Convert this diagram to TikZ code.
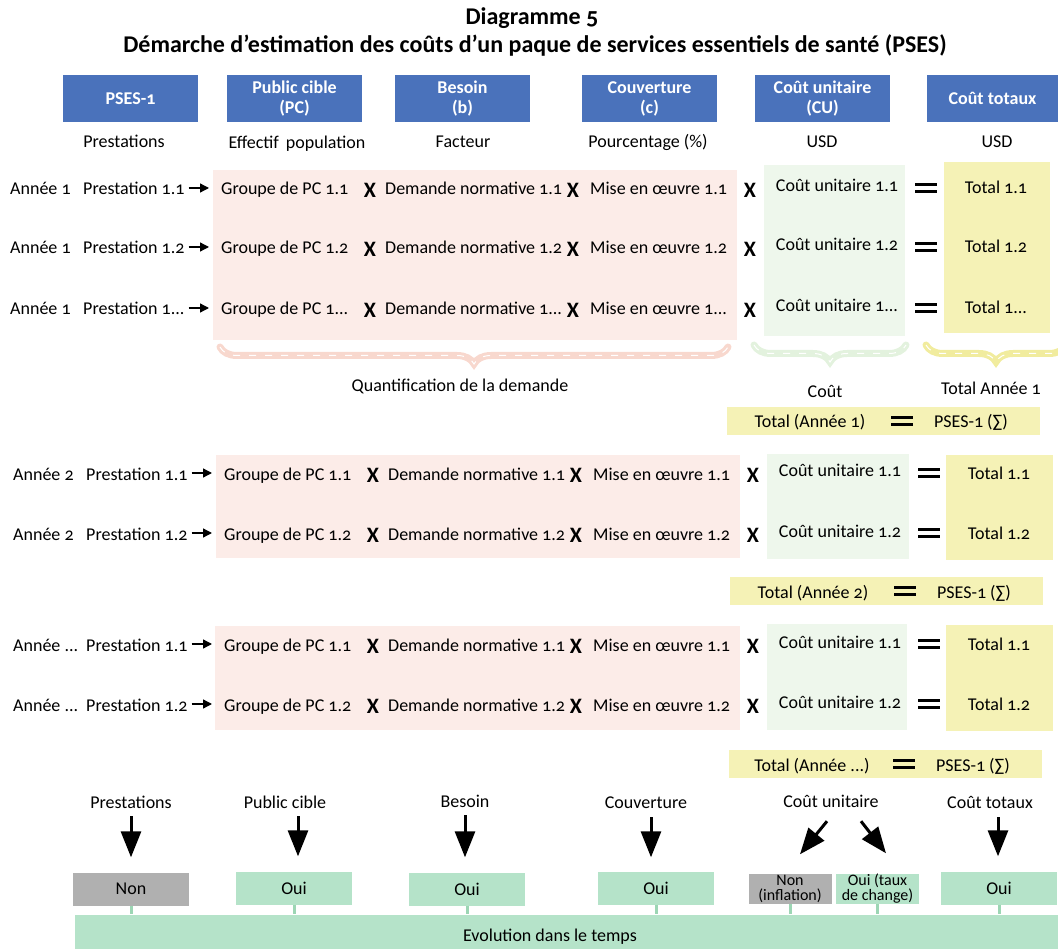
\documentclass[tikz,border=0pt]{standalone}
\usepackage{fontspec}
\setmainfont{Carlito}[Numbers=OldStyle]
\usetikzlibrary{arrows.meta,decorations.pathreplacing}

\definecolor{hdrblue}{HTML}{4A72BB}
\definecolor{demandbg}{HTML}{FCECE8}
\definecolor{costbg}{HTML}{EEF7EC}
\definecolor{totalbg}{HTML}{F5F2B6}
\definecolor{nobg}{HTML}{B0B0B0}
\definecolor{yesbg}{HTML}{B5E3C9}
\definecolor{tickcol}{HTML}{9CD6B4}
\definecolor{bracepink}{HTML}{F8D8CE}
\definecolor{bracegreen}{HTML}{E3F2DE}
\definecolor{braceyellow}{HTML}{F1EC9E}

\newcommand{\bodysize}{\fontsize{18}{20}\selectfont}
\newcommand{\eqbars}{\vbox{\hrule width 22pt height 3.4pt\vskip 3.6pt\hrule width 22pt height 3.4pt}}

% one line of the cost computation: id, y, year, index, x offset
\newcommand{\costrow}[5]{%
  \node[txt,anchor=west] (an#1) at (10+#5,#2) {Année #3};
  \node[txt,anchor=west] (pr#1) at (83+#5,#2) {Prestation #4};
  \node[txt,anchor=west] (gr#1) at (221+#5,#2) {Groupe de PC #4};
  \node[mul] (xa#1) at (370+#5,#2+2) {X};
  \node[txt,anchor=west] (dn#1) at (385+#5,#2) {Demande normative #4};
  \node[mul] (xb#1) at (573+#5,#2+2) {X};
  \node[txt,anchor=west] (mo#1) at (590+#5,#2) {Mise en œuvre #4};
  \node[mul] (xc#1) at (750+#5,#2+2) {X};
  \node[txt] (cu#1) at (837+#5,#2-3) {Coût unitaire #4};
  \node[eqsign] (eq#1) at (926+#5,#2) {\eqbars};
  \node[txt] (to#1) at (996+#5,#2-1) {Total #4};
  \draw[rowarrow] (pr#1.east) -- (gr#1.west);
}

% yearly total line: id, y, year, x offset
\newcommand{\yeartotal}[4]{%
  \node[ybox] (tb#1) at (883.5+#4,#2) {};
  \node[txt] (tl#1) at (810+#4,#2) {Total (Année #3)};
  \node[eqsign] (te#1) at (902+#4,#2) {\eqbars};
  \node[txt] (tp#1) at (971+#4,#2) {PSES-1 (∑)};
}

\tikzset{
  txt/.style={inner sep=0pt,font=\bodysize,text=black,text height=15pt,text depth=1pt},
  mul/.style={inner sep=0pt,font=\fontsize{22}{22}\selectfont\bfseries},
  eqsign/.style={inner sep=0pt},
  hdr/.style={fill=hdrblue,text=white,font=\fontsize{18}{20}\selectfont\bfseries,
    minimum width=135pt,minimum height=47pt,inner sep=0pt,align=center},
  ybox/.style={fill=totalbg,minimum width=313pt,minimum height=28pt,inner sep=0pt},
  rowarrow/.style={-{Triangle[length=9pt,width=9pt]},line width=1.3pt,shorten <=4pt,shorten >=12pt},
  bigarrow/.style={-{Triangle[length=26pt,width=20pt]},line width=3pt},
  answer/.style={minimum height=33pt,inner sep=0pt,font=\bodysize,align=center},
  smallanswer/.style={minimum height=30pt,minimum width=83pt,inner sep=0pt,
    font=\fontsize{16}{15}\selectfont,align=center},
  tick/.style={tickcol,line width=3pt},
  bracebase/.style={decorate,decoration={brace,mirror,amplitude=17pt},line width=7pt,line cap=round},
  bracestreak/.style={decorate,decoration={brace,mirror,amplitude=17pt},white,line width=1pt,dash pattern=on 7pt off 9pt}
}

\begin{document}
\begin{tikzpicture}[x=1pt,y=-1pt]
\useasboundingbox (0,0) rectangle (1058,949);

% title
\node[font=\fontsize{24}{26}\selectfont\bfseries,inner sep=0pt] (title1) at (532,18) {Diagramme 5};
\node[font=\fontsize{24}{26}\selectfont\bfseries,inner sep=0pt] (title2) at (535,45) {Démarche d’estimation des coûts d’un paque de services essentiels de santé (PSES)};

% column headers
\node[hdr] (h1) at (130.5,98.5) {PSES-1};
\node[hdr] (h2) at (294.5,98.5) {Public cible\\(PC)};
\node[hdr] (h3) at (462.5,98.5) {Besoin\\(b)};
\node[hdr] (h4) at (649.5,98.5) {Couverture\\(c)};
\node[hdr] (h5) at (822.5,98.5) {Coût unitaire\\(CU)};
\node[hdr,minimum width=131pt] (h6) at (992.5,98.5) {Coût totaux};

\node[txt] (u1) at (124,141) {Prestations};
\node[txt] (u2) at (297,142) {Effectif\hspace{3pt} population};
\node[txt] (u3) at (463,141) {Facteur};
\node[txt] (u4) at (648,141) {Pourcentage (\%)};
\node[txt] (u5) at (822,141) {USD};
\node[txt] (u6) at (997,141) {USD};

% panels, year 1
\fill[demandbg] (213,170) rectangle (737,340);
\fill[costbg] (764,165) rectangle (905,336);
\fill[totalbg] (944,162) rectangle (1050,333);
% panels, year 2
\fill[demandbg] (216,455) rectangle (740,558);
\fill[costbg] (767,454) rectangle (909,559);
\fill[totalbg] (946,455) rectangle (1053,560);
% panels, later years
\fill[demandbg] (215,626) rectangle (740,730);
\fill[costbg] (767,624) rectangle (907,730);
\fill[totalbg] (946,625) rectangle (1053,731);

% year 1
\costrow{a}{188}{1}{1.1}{0}
\costrow{b}{247}{1}{1.2}{0}
\costrow{c}{308}{1}{1...}{0}

% braces under year 1
\draw[bracebase,bracepink] (220,347) -- (728,347);
\draw[bracestreak] (220,347) -- (728,347);
\draw[bracebase,bracegreen] (754,345) -- (906,345);
\draw[bracestreak] (754,345) -- (906,345);
\draw[bracebase,braceyellow] (926,345) -- (1066,345);
\draw[bracestreak] (926,345) -- (1066,345);
\node[txt] (qd) at (460,385) {Quantification de la demande};
\node[txt] (qc) at (825,391) {Coût};
\node[txt] (qt) at (991,388) {Total Année 1};

\yeartotal{1}{421}{1}{0}

% year 2
\costrow{d}{473}{2}{1.1}{3}
\costrow{e}{533}{2}{1.2}{3}
\yeartotal{2}{591}{2}{3}

% later years
\costrow{f}{644}{...}{1.1}{3}
\costrow{g}{704}{...}{1.2}{3}
\yeartotal{3}{764}{...}{2}

% evolution over time
\node[fill=yesbg,minimum width=983pt,minimum height=35pt,inner sep=0pt] (bar) at (566.5,932) {};
\node[txt] (evo) at (550,934) {Evolution dans le temps};

\node[answer,fill=nobg,minimum width=116pt] (aPr) at (131,889) {Non};
\node[answer,fill=yesbg,minimum width=116pt] (aPc) at (294,888) {Oui};
\node[answer,fill=yesbg,minimum width=116pt] (aBe) at (467,889) {Oui};
\node[answer,fill=yesbg,minimum width=116pt] (aCo) at (656,888) {Oui};
\node[smallanswer,fill=nobg] (aCn) at (790,888.5) {Non\\(inflation)};
\node[smallanswer,fill=yesbg] (aCy) at (877.5,888.5) {Oui (taux\\de change)};
\node[answer,fill=yesbg,minimum width=116pt] (aTo) at (999,888) {Oui};

\node[txt] (lPr) at (131,801) {Prestations};
\node[txt] (lPc) at (285,801) {Public cible};
\node[txt] (lBe) at (465,800) {Besoin};
\node[txt] (lCo) at (646,801) {Couverture};
\node[txt] (lCu) at (831,800) {Coût unitaire};
\node[txt] (lTo) at (990,801) {Coût totaux};

\draw[bigarrow] (lPr.south -| aPr) ++(0,7) -- ([yshift=15pt]aPr.north);
\draw[bigarrow] (lPc.south -| aPc) ++(4,7) -- ([xshift=4pt,yshift=15pt]aPc.north);
\draw[bigarrow] (lBe.south -| aBe) ++(-2,7) -- ([xshift=-2pt,yshift=15pt]aBe.north);
\draw[bigarrow] (lCo.south -| aCo) ++(-5,8) -- ([xshift=-5pt,yshift=14pt]aCo.north);
\draw[bigarrow] (lTo.south -| aTo) ++(-1,8) -- ([xshift=-1pt,yshift=15pt]aTo.north);
\draw[bigarrow] ([xshift=-4pt,yshift=-13pt]lCu.south) -- ([xshift=10pt,yshift=19pt]aCn.north);
\draw[bigarrow] ([xshift=30pt,yshift=-13pt]lCu.south) -- ([xshift=8.5pt,yshift=20pt]aCy.north);

% links down to the time bar
\foreach \b in {aPr,aPc,aBe,aCo,aCn,aCy,aTo}
  \draw[tick] (\b.south) -- (\b.south |- bar.north);
\end{tikzpicture}
\end{document}
